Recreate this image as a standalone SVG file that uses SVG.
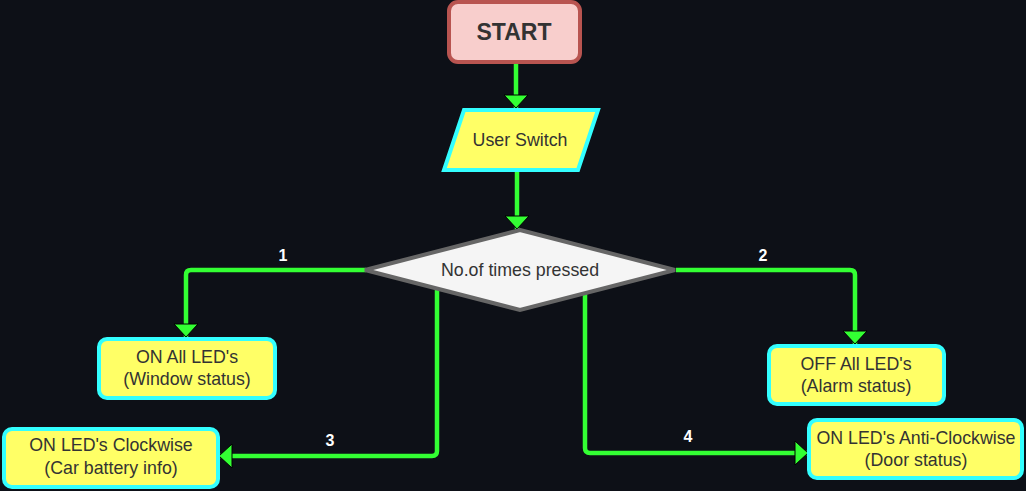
<svg xmlns="http://www.w3.org/2000/svg" width="1026" height="491" viewBox="0 0 1026 491">
<defs>
<style>
.t{font-family:"Liberation Sans",Arial,sans-serif;font-size:17.8px;fill:#333333;text-anchor:middle;dominant-baseline:central}
.lbl{font-family:"Liberation Sans",Arial,sans-serif;font-size:16px;font-weight:bold;fill:#ffffff;text-anchor:middle;dominant-baseline:central}
.box{fill:#ffff66;stroke:#33ffff;stroke-width:4}
.edge{fill:none;stroke:#33ff33;stroke-width:4.5;marker-end:url(#ah)}
</style>
<marker id="ah" markerUnits="userSpaceOnUse" markerWidth="18" markerHeight="30" viewBox="-1 -15 18 30" refX="13" refY="0" orient="auto">
<path d="M0,-12 L13,0 L0,12 Z" fill="#33ff33" stroke="#000000" stroke-width="1"/>
</marker>
</defs>
<rect width="1026" height="491" fill="#0d1017"/>
<g id="connectors">
<path class="edge" d="M516,64 L516,108"/>
<path class="edge" d="M517,172 L517,229"/>
<path class="edge" d="M366,270 L191,270 Q186,270 186,275 L186,337"/>
<path class="edge" d="M676,270 L850,270 Q855,270 855,275 L855,344"/>
<path class="edge" d="M437,270 L437,451 Q437,456 432,456 L219,456"/>
<path class="edge" d="M585,270 L585,448 Q585,453 590,453 L808,453"/>
<text class="lbl" x="283" y="255">1</text>
<text class="lbl" x="763" y="255">2</text>
<text class="lbl" x="330" y="440">3</text>
<text class="lbl" x="688" y="436">4</text>
</g>
<g id="start">
<rect x="449" y="2" width="131" height="60" rx="9" fill="#f8cecc" stroke="#b85450" stroke-width="4"/>
<text class="t" x="514" y="32" style="font-weight:bold;font-size:23px">START</text>
</g>
<g id="user-switch">
<polygon points="464,110 598,110 578,170 444,170" fill="#ffff66" stroke="#33ffff" stroke-width="4"/>
<text class="t" x="520" y="140">User Switch</text>
</g>
<g id="decision">
<polygon points="520,230 675,270 520,310 365,270" fill="#f5f5f5" stroke="#666666" stroke-width="4"/>
<text class="t" x="520" y="270">No.of times pressed</text>
</g>
<g id="on-all">
<rect class="box" x="99" y="339" width="176" height="59" rx="8"/>
<text class="t" x="187" y="357">ON All LED's</text>
<text class="t" x="187" y="379">(Window status)</text>
</g>
<g id="off-all">
<rect class="box" x="769" y="346" width="175" height="58" rx="8"/>
<text class="t" x="856" y="364">OFF All LED's</text>
<text class="t" x="856" y="386">(Alarm status)</text>
</g>
<g id="clockwise">
<rect class="box" x="4" y="429" width="214" height="58" rx="8"/>
<text class="t" x="111" y="445">ON LED's Clockwise</text>
<text class="t" x="111" y="468">(Car battery info)</text>
</g>
<g id="anticlockwise">
<rect class="box" x="809" y="420" width="213" height="58" rx="8"/>
<text class="t" x="916" y="438">ON LED's Anti-Clockwise</text>
<text class="t" x="916" y="460">(Door status)</text>
</g>
</svg>
